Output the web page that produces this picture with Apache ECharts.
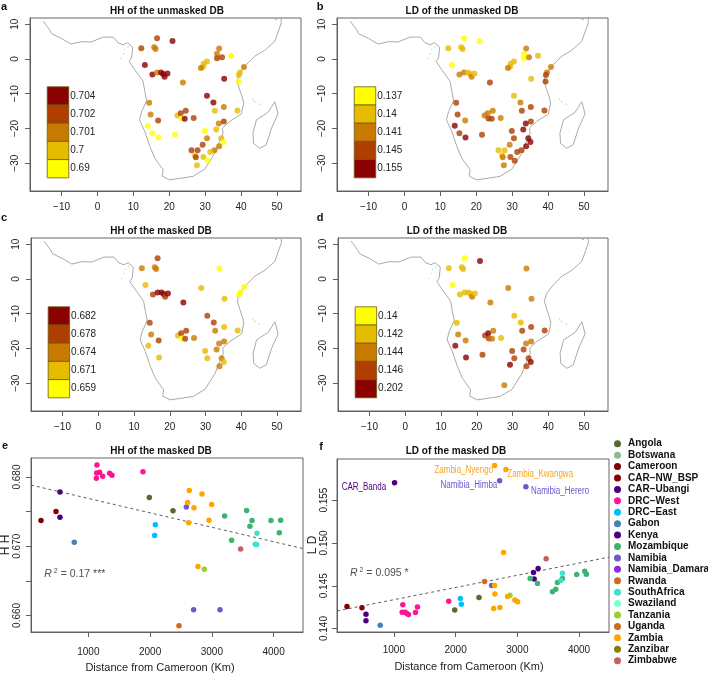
<!DOCTYPE html>
<html><head><meta charset="utf-8">
<style>html,body{margin:0;padding:0;background:#fff}#c{width:708px;height:676px}</style>
<script src="https://cdn.jsdelivr.net/npm/echarts@6/dist/echarts.min.js"></script>
</head><body><div id="c"></div>
<script>
const coastLon=[-15.1,-13.2,-12.8,-10,-7.4,-4.4,-1.8,1.6,4.4,5.8,7.2,8.4,9.8,9.5,8.8,10.4,12.7,13.2,13.7,12.3,11.7,13.2,14.6,16,18.3,18,20.1,26.6,29.9,32.7,33.6,35,34.8,36.8,40.1,40.7,40.4,39.6,38.9,39.6,41.5,43.8,46.6,49.4,51.2,51.2];
const coastLat=[10.9,8.2,7.3,5.9,4.3,5,4.9,6.3,6.3,4.6,4.1,4.7,3.4,0.3,-0.7,-3.1,-6.4,-9.4,-12,-15.1,-17.5,-20.9,-25.2,-28.6,-31.9,-33.7,-34.8,-33.8,-31.7,-27.1,-24.7,-21.4,-19.9,-18,-15.8,-12.7,-11.2,-8.8,-6.4,-4,-1.6,0.8,2.5,5.1,10.4,11.8];
const madagascarLon=[49.4,50.3,48.5,47,45.2,43.5,43.3,44.3,47.5,49.4];
const madagascarLat=[-12.3,-15.8,-19.9,-24.7,-25.7,-24.3,-21.4,-17.5,-15.4,-12.3];
const islandLon=[43.1,43.4,null,43.7,44,null,44.9,45.2,null,7.5,7.7,null,7.1,7.3,null,6.4,6.6,null,8.4,8.7,null,48.9,50];
const islandLat=[-11.5,-11.8,null,-12.2,-12.4,null,-12.9,-13.1,null,2.7,2.8,null,1.5,1.6,null,0.1,0.2,null,3.4,3.7,null,11.8,11.3];

const siteLon=[16.6,20.9,12.2,15.8,16.2,13.2,15.3,16.6,17.7,18.3,18.7,19.5,23.8,33.9,33.3,33.3,34.7,37.2,30.5,29.6,29.4,28.8,40.8,39.7,39.4,39.3,35.3,30.5,32.3,14.4,14.8,16.9,14,15.3,17,21.6,22.3,23.2,24.6,23.4,24.3,26.8,32.7,35.2,39,33.8,35.2,33.1,29.9,30.5,34.5,35.1,29.3,33.9,32.6,31.4,26.2,27.9,27.2,27.4,29.5,30.7,27.7];
const siteLat=[6,5.2,3.1,3.4,2.9,-1.7,-4.5,-3.9,-3.9,-4.3,-5.1,-4.2,-6.8,3,1.5,0.2,0.5,0.9,-0.7,-1.4,-2.2,-2.6,-2.3,-3.9,-4.6,-6.5,-5.7,-10.6,-12.5,-12.6,-16,-17.7,-19.2,-21.4,-22.6,-21.8,-16.3,-15.6,-14.9,-17.1,-17.2,-17,-14.9,-13.8,-14.8,-18.6,-18,-20.3,-20.7,-22.8,-22.8,-23.9,-24.7,-25.1,-26.3,-26.8,-26.3,-26.3,-27.8,-28.3,-28.2,-29.3,-30.6];
// colour class of every site per panel: 0 yellow ... 4 dark red, null = site not in that database
const classA=[3,4,3,2,2,4,4,2,4,4,4,4,2,2,2,3,3,0,1,1,1,2,2,1,1,0,4,4,4,2,2,3,0,0,0,0,1,3,3,0,4,3,1,2,1,2,3,1,0,2,1,0,3,2,2,1,3,3,1,3,1,0,1];
const classB=[0,0,1,1,1,0,2,2,1,1,2,1,3,2,0,0,2,1,1,1,1,2,2,2,3,3,1,1,2,3,3,2,4,3,4,3,2,2,2,3,3,2,3,3,3,4,3,4,3,3,4,4,2,4,3,3,1,1,1,2,3,3,2];
const classC=[3,null,2,2,2,1,3,4,4,4,3,4,4,0,null,null,null,null,null,null,null,1,0,0,0,null,1,3,3,3,2,3,1,null,1,null,1,3,3,0,3,2,2,1,1,2,2,2,1,1,2,1,null,2,null,null,null,null,null,null,null,null,null];
const classD=[0,4,1,1,1,0,1,1,1,1,2,1,2,2,null,null,null,null,null,null,null,2,null,null,null,null,2,1,1,1,2,2,4,null,4,3,3,4,2,3,2,1,3,3,3,2,2,3,3,3,3,4,4,3,null,null,null,null,null,null,null,null,2];
const ramp=['#FFFF00','#E6BC00','#C87A00','#AE3F00','#8B0000'];
const keyA=['0.704','0.702','0.701','0.7','0.69'];
const keyB=['0.137','0.14','0.141','0.145','0.155'];
const keyC=['0.682','0.678','0.674','0.671','0.659'];
const keyD=['0.14','0.142','0.144','0.146','0.202'];

const countries=['Angola','Botswana','Cameroon','CAR\u2212NW_BSP','CAR\u2212Ubangi','DRC\u2212West','DRC\u2212East','Gabon','Kenya','Mozambique','Namibia','Namibia_Damara','Rwanda','SouthAfrica','Swaziland','Tanzania','Uganda','Zambia','Zanzibar','Zimbabwe'];
const countryColors=['#556B2F','#8FBC8F','#800000','#8B0000','#4B0082','#FF1493','#00BFFF','#4682B4','#4B0082','#3CB371','#6A5ACD','#8A2BE2','#D2691E','#40E0D0','#7FFFD4','#9ACD32','#D2691E','#FFA500','#808000','#CD5C5C'];

const hhCountry=['Cameroon','CAR\u2212NW_BSP','CAR\u2212Ubangi','CAR\u2212Ubangi','Gabon','DRC\u2212West','DRC\u2212West','DRC\u2212West','DRC\u2212West','DRC\u2212West','DRC\u2212West','DRC\u2212West','DRC\u2212West','Angola','Angola','DRC\u2212East','DRC\u2212East','Namibia','Namibia','Namibia','Zambia','Zambia','Zambia','Zambia','Zambia','Zambia','Zambia','Zambia','Tanzania','Rwanda','Mozambique','Mozambique','Mozambique','Mozambique','Mozambique','Mozambique','Mozambique','Mozambique','SouthAfrica','SouthAfrica','SouthAfrica','Zimbabwe'];
const hhDist=[234,477,541,541,773,1140,1135,1183,1130,1232,1345,1383,1885,1988,2371,2085,2074,2587,2705,3132,2635,2840,2608,2711,2997,2954,2624,2775,2878,2468,3207,3563,3650,3617,3957,4114,4092,3320,3731,3703,3725,3466];
const hhValue=[.67372,.67502,.67783,.6742,.67058,.68174,.68058,.68068,.67981,.6801,.68053,.68024,.68077,.67705,.67512,.67309,.67155,.67565,.66082,.66082,.67807,.67754,.67633,.67556,.67604,.67377,.67338,.66705,.66667,.6585,.67435,.67517,.67372,.6729,.67372,.67377,.67193,.67087,.67188,.67029,.67024,.66961];

const ldCountry=['Cameroon','CAR\u2212NW_BSP','CAR\u2212Ubangi','CAR\u2212Ubangi','CAR\u2212Ubangi','Gabon','DRC\u2212West','DRC\u2212West','DRC\u2212West','DRC\u2212West','DRC\u2212West','DRC\u2212West','DRC\u2212West','DRC\u2212West','DRC\u2212East','DRC\u2212East','Angola','Angola','Rwanda','Namibia','Namibia','Namibia','Zambia','Zambia','Zambia','Zambia','Zambia','Zambia','Zambia','Zambia','Zambia','Zambia','Tanzania','Mozambique','Mozambique','Mozambique','Mozambique','Mozambique','Mozambique','Mozambique','Mozambique','Mozambique','SouthAfrica','SouthAfrica','Kenya','Kenya','Kenya','Zimbabwe'];
const ldDist=[241,483,548,548,1011,779,1145,1135,1183,1237,1210,1350,1382,1889,2077,2093,1986,2379,2470,2583,2713,3138,2632,2815,2632,2637,2616,2718,2842,2960,3004,2777,2880,3208,3327,3569,3623,3650,3731,3962,4092,4119,3704,3731,3262,3273,3337,3467];
const ldValue=[.14257,.14242,.14168,.1409,.15703,.14039,.14277,.14191,.14191,.14164,.14175,.14187,.14253,.14319,.14351,.14284,.14218,.14362,.14549,.14503,.15726,.15656,.15905,.15858,.14503,.14405,.14234,.14245,.14374,.14335,.14312,.14888,.1439,.14584,.14526,.14429,.1446,.14538,.14584,.14631,.1467,.14635,.14561,.14647,.14655,.1458,.14701,.14814];

const hhFitDist=[72,4476], hhFitValue=[.67884,.66966];
const ldFitDist=[79,4485], ldFitValue=[.14206,.14834];
const ldNames=['CAR_Banda','Zambia_Nyengo','Zambia_Kwangwa','Namibia_Himba','Namibia_Herero'];
const ldNameDist=[155,1657,2837,1754,3220];
const ldNameValue=[.15653,.15851,.15804,.15675,.15601];
const ldNameColor=['#4B0082','#F5A623','#F5A623','#6A5ACD','#6A5ACD'];

const axisGrey='#606060', boxGrey='#666';
const textColor='#222', FONT='"Liberation Sans",Arial,sans-serif';
const grids=[
 {left:30,top:18,width:271,height:173},
 {left:337,top:18,width:271,height:173},
 {left:31,top:238,width:270,height:173},
 {left:338,top:238,width:270,height:173},
 {left:31,top:458,width:272,height:174},
 {left:337,top:459,width:272,height:173}];
const minus=s=>String(s).replace('-','\u2212');
const grid=grids.map(g=>({...g,show:true,borderColor:boxGrey,borderWidth:1,backgroundColor:'transparent',containLabel:false}));
const xAxis=[],yAxis=[],series=[];
function addAxes(xmin,xmax,xTicks,ymin,ymax,yTicks,yLabels,yFmt,xm,ym,col){
 const i=xAxis.length;
 xAxis.push({gridIndex:i,type:'value',position:'bottom',min:xmin,max:xmax,splitLine:{show:false},axisLine:{show:true,onZero:false,lineStyle:{color:col,width:1}},
  axisTick:{show:true,length:5,inside:false,lineStyle:{color:col,width:1},customValues:xTicks},
  axisLabel:{margin:xm,fontFamily:FONT,fontSize:10,color:textColor,customValues:xTicks,hideOverlap:false,formatter:minus}});
 yAxis.push({gridIndex:i,type:'value',position:'left',min:ymin,max:ymax,splitLine:{show:false},axisLine:{show:true,onZero:false,lineStyle:{color:col,width:1}},
  axisTick:{show:true,length:5,lineStyle:{color:col,width:1},customValues:yTicks},
  axisLabel:{margin:ym,rotate:90,fontFamily:FONT,fontSize:10,color:textColor,customValues:yLabels,hideOverlap:false,formatter:yFmt}});
 return i;
}
const mapX=[-10,0,10,20,30,40,50], mapY=[-30,-20,-10,0,10];
function mapPanel(classes,key,keyTopDark){
 const i=addAxes(-18.8,56.7,mapX,-38,11.8,mapY,mapY,minus,11,10,axisGrey);
 const line=(lo,la)=>({type:'line',xAxisIndex:i,yAxisIndex:i,silent:true,showSymbol:false,symbol:'none',connectNulls:false,
   lineStyle:{color:'#aaaaaa',width:1},data:lo.map((v,k)=>v===null?[null,null]:[v,la[k]]),z:1});
 series.push(line(coastLon,coastLat),line(madagascarLon,madagascarLat),line(islandLon,islandLat));
 const pts=[];
 siteLon.forEach((v,k)=>{if(classes[k]!==null)pts.push({value:[v,siteLat[k]],itemStyle:{color:ramp[classes[k]]}});});
 series.push({type:'scatter',xAxisIndex:i,yAxisIndex:i,symbol:'circle',symbolSize:6,data:pts,z:3,silent:true});
 series.push({type:'custom',xAxisIndex:i,yAxisIndex:i,silent:true,z:4,clip:false,
  data:key.map((t,k)=>[k,t]),
  renderItem:(p,api)=>{
   const k=api.value(0),top=-8-k*5.24,bot=top-5.24;
   const a=api.coord([-14,top]),b=api.coord([-8,bot]);
   const col=keyTopDark?ramp[4-k]:ramp[k];
   return {type:'group',children:[
    {type:'rect',shape:{x:a[0],y:a[1],width:b[0]-a[0],height:b[1]-a[1]},style:{fill:col,stroke:'#6b5a10',lineWidth:.8}},
    {type:'text',x:b[0]+1.5,y:(a[1]+b[1])/2,style:{text:key[k],fontFamily:FONT,fontSize:10,fill:textColor,align:'left',verticalAlign:'middle'}}]};
  },encode:{x:0}});
}
mapPanel(classA,keyA,true);mapPanel(classB,keyB,false);mapPanel(classC,keyC,true);mapPanel(classD,keyD,false);

function scatterPanel(ymin,ymax,xmin,xmax,yTicks,yLabels,cs,ds,vs,fx,fy,r2,r2x,r2y,xm,ym){
 const i=addAxes(xmin,xmax,[1000,2000,3000,4000],ymin,ymax,yTicks,yLabels,v=>(+v).toFixed(3),xm,ym,axisGrey);
 countries.forEach((n,k)=>{
  const d=[];cs.forEach((c,j)=>{if(c===n)d.push([ds[j],vs[j]]);});
  series.push({type:'scatter',name:n,xAxisIndex:i,yAxisIndex:i,symbol:'circle',symbolSize:5.5,itemStyle:{color:countryColors[k],opacity:1},data:d,z:3,silent:true});
 });
 series.push({type:'line',xAxisIndex:i,yAxisIndex:i,silent:true,symbol:'none',z:2,lineStyle:{color:'#333',width:.8,type:[3,3]},data:fx.map((v,k)=>[v,fy[k]])});
 series.push({type:'scatter',xAxisIndex:i,yAxisIndex:i,silent:true,symbolSize:0,z:5,data:[[r2x,r2y]],
  label:{show:true,position:'right',distance:0,formatter:'{r|R}{s| 2}{t| = '+r2+'}',
   rich:{r:{fontFamily:FONT,fontSize:10.5,fontStyle:'italic',color:'#222'},s:{fontFamily:FONT,fontSize:7,color:'#222',verticalAlign:'top',padding:[0,0,5,0]},t:{fontFamily:FONT,fontSize:10.5,color:'#222'}}}});
 return i;
}
scatterPanel(.6576,.68275,72,4476,[.66,.665,.67,.675,.68],[.66,.67,.68],hhCountry,hhDist,hhValue,hhFitDist,hhFitValue,'0.17 ***',288,.666,15,9);
const fi=scatterPanel(.1396,.1598,79,4485,[.14,.145,.15,.155],[.14,.145,.15,.155],ldCountry,ldDist,ldValue,ldFitDist,ldFitValue,'0.095 *',290,.1465,13,8);
series.push({type:'custom',xAxisIndex:fi,yAxisIndex:fi,silent:true,z:5,clip:false,
 data:ldNames.map((n,k)=>[ldNameDist[k],ldNameValue[k],k]),encode:{x:0,y:1},
 renderItem:(p,api)=>{
  const k=api.value(2),c=api.coord([api.value(0),api.value(1)]);
  return {type:'text',x:c[0],y:c[1],scaleX:.8,scaleY:1,style:{text:ldNames[k],fontFamily:FONT,fontSize:10,fill:ldNameColor[k],align:'left',verticalAlign:'middle'}};
 }});

const panelTitles=[['HH of the unmasked DB',167,11],['LD of the unmasked DB',462,11],['HH of the masked DB',161,231],['LD of the masked DB',457,231],['HH of the masked DB',161,451],['LD of the masked DB',456,451]];
const panelLetters=[['a',4,7],['b',320,7],['c',4,218],['d',320,218],['e',5,446],['f',321,447]];
const txt=(t,x,y,font,opt={})=>({type:'text',x,y,rotation:opt.rot||0,z:10,style:{text:t,font,fill:opt.fill||'#111',align:'center',verticalAlign:'middle'}});
const graphic=[
 ...panelTitles.map(a=>txt(a[0],a[1],a[2],'bold 10px '+FONT)),
 ...panelLetters.map(a=>txt(a[0],a[1],a[2],'bold 11px '+FONT)),
 txt('Distance from Cameroon (Km)',160,668,'11px '+FONT,{fill:'#222'}),
 txt('Distance from Cameroon (Km)',469,667,'11px '+FONT,{fill:'#222'}),
 txt('H H',6,545,'12px '+FONT,{rot:Math.PI/2,fill:'#222'}),
 txt('L D',313,545,'12px '+FONT,{rot:Math.PI/2,fill:'#222'})];

const chart=echarts.init(document.getElementById('c'),null,{renderer:'canvas'});
chart.setOption({animation:false,backgroundColor:'#fff',grid,xAxis,yAxis,series,graphic,
 tooltip:{show:false},
 legend:{show:true,orient:'vertical',left:614,top:438,data:countries.map(n=>({name:n,icon:'circle'})),selectedMode:false,
  itemWidth:7,itemHeight:7,itemGap:0,padding:0,
  textStyle:{fontFamily:FONT,fontSize:10,fontWeight:'bold',color:'#111',lineHeight:11.42,padding:[0,0,0,2]},inactiveColor:'#ccc'}});
</script></body></html>
